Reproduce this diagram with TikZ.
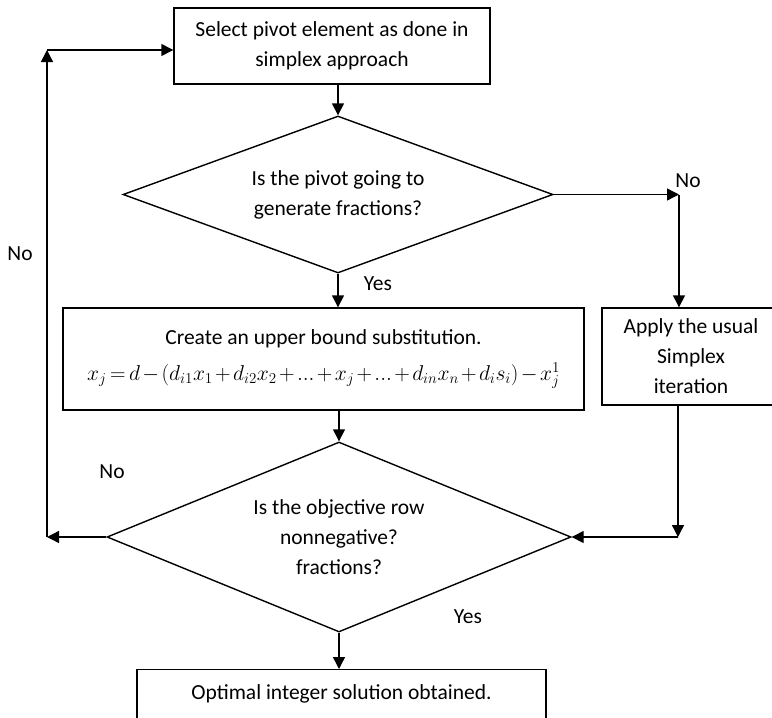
\documentclass[tikz,border=0pt]{standalone}
\usepackage{fontspec}
\usepackage{fix-cm}
\setmainfont{Carlito}
\usetikzlibrary{shapes.geometric,arrows.meta}
\begin{document}
\begin{tikzpicture}[x=1pt,y=-1pt,
  line width=1.4pt,
  txt/.style={font=\fontsize{21.5}{30}\selectfont, align=center},
  procbox/.style={draw, rectangle, inner sep=0pt, txt},
  decision/.style={draw, diamond, inner sep=0pt, txt},
  lbl/.style={font=\fontsize{21.5}{25}\selectfont, inner sep=0pt},
  flow/.style={-{Triangle[length=12pt,width=12pt]}},
  ]
\useasboundingbox (0,0) rectangle (772,718);
\clip (0,0) rectangle (772,718);

% process steps and decisions
\node[procbox, minimum width=316pt, minimum height=76pt] (select) at (332,46)
  {Select pivot element as done in\\simplex approach};
\node[decision, aspect=2.74, minimum width=430pt, minimum height=157pt] (frac) at (338,194.5)
  {Is the pivot going to\\generate fractions?};
\node[procbox, minimum width=521pt, minimum height=102pt] (bound) at (323.5,359)
  {Create an upper bound substitution.\\[6pt]
   \fontsize{21.5}{25}\selectfont
   $\thickmuskip=3mu\medmuskip=2mu
    x_j = d-(d_{i1}x_1+d_{i2}x_2+...+x_j+...+d_{in}x_n+d_is_i)-x_j^1$};
\node[procbox, minimum width=178pt, minimum height=97pt] (usual) at (691,356.5)
  {Apply the usual\\Simplex\\iteration};
\node[decision, aspect=2.44, minimum width=464pt, minimum height=190pt] (objrow) at (339,537)
  {Is the objective row\\nonnegative?\\fractions?};
\node[procbox, anchor=north, minimum width=409pt, text height=14pt, text depth=60pt,
  inner ysep=16pt] (optimal) at (341.5,669)
  {Optimal integer solution obtained.};

% corner points of the connectors
\coordinate (rightturn) at (679,194.5);
\coordinate (backturn) at (678,537);
\coordinate (leftturn) at (47,537);
\coordinate (topturn) at (47,50);

% connectors
\draw[flow] (frac.north |- select.south) -- (frac.north);
\draw[flow] (frac.east) -- (rightturn);
\draw[flow] (rightturn) -- (rightturn |- usual.north);
\draw[flow] (frac.south) -- (frac.south |- bound.north);
\draw[flow] (objrow.north |- bound.south) -- (objrow.north);
\draw[flow] (backturn |- usual.south) -- (backturn);
\draw[flow] (backturn) -- (objrow.east);
\draw[flow] (objrow.west) -- (leftturn);
\draw[flow] (leftturn) -- (topturn);
\draw[flow] (topturn) -- (topturn -| select.west);
\draw[flow] (objrow.south) -- (objrow.south |- optimal.north);

% branch labels
\node[lbl] (noright) at (688,181) {No};
\node[lbl] (yesfrac) at (378,284) {Yes};
\node[lbl] (noleft) at (20,254) {No};
\node[lbl] (noobj) at (112,472) {No};
\node[lbl] (yesobj) at (468,617) {Yes};
\end{tikzpicture}
\end{document}
